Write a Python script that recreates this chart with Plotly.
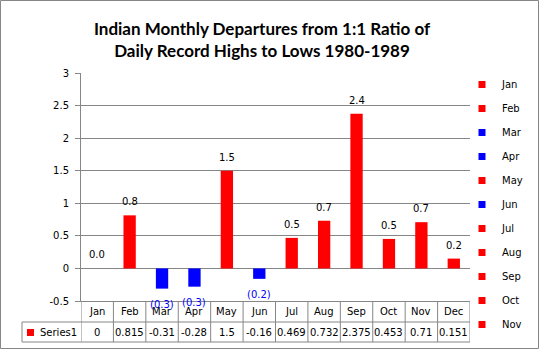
import plotly.graph_objects as go

months = ["Jan", "Feb", "Mar", "Apr", "May", "Jun", "Jul", "Aug", "Sep", "Oct", "Nov", "Dec"]
values = [0, 0.815, -0.31, -0.28, 1.5, -0.16, 0.469, 0.732, 2.375, 0.453, 0.71, 0.151]
series_name = "Series1"
title_text = "Indian Monthly Departures from 1:1 Ratio of<br>Daily Record Highs to Lows 1980-1989"
y_ticks = [-0.5, 0, 0.5, 1, 1.5, 2, 2.5, 3]

RED = "#FF0000"
BLUE = "#0000FF"
GRAY = "#868686"
FONT = "DejaVu Sans"

W, H = 540, 350
L, R, T, B = 81, 70, 73, 49
PW, PH = W - L - R, H - T - B

def px_x(p):  # pixel x -> paper
    return (p - L) / PW

def px_y(p):  # pixel y -> paper
    return (H - B - p) / PH

colors = [RED if v >= 0 else BLUE for v in values]

fig = go.Figure()
fig.add_trace(go.Bar(x=months, y=values, marker=dict(color=colors, line=dict(width=0)),
                     width=0.38, showlegend=False, name=series_name, hoverinfo="x+y"))

# legend entries (Dec is cut off in the original)
for i, (m, c) in enumerate(zip(months[:11], colors[:11])):
    fig.add_trace(go.Scatter(x=[m], y=[None], mode="markers", name=m, legendgroup=m,
                             marker=dict(symbol="square", size=7, color=c)))

annotations = []
# bar labels
for m, v in zip(months, values):
    if v >= 0:
        annotations.append(dict(x=m, y=v, xref="x", yref="y", text=f"{v:.1f}", showarrow=False,
                                yanchor="bottom", yshift=6, font=dict(family=FONT, size=10, color="black")))
    else:
        annotations.append(dict(x=m, y=v, xref="x", yref="y", text=f"({abs(v):.1f})", showarrow=False,
                                yanchor="top", yshift=-8, font=dict(family=FONT, size=10, color=BLUE)))

# data table
y_top = 0
y_mid = px_y(322)
y_bot = px_y(342)
for m, v in zip(months, values):
    annotations.append(dict(x=m, y=(y_top + y_mid) / 2, xref="x", yref="paper", text=m, showarrow=False,
                            yanchor="middle", font=dict(family=FONT, size=10, color="black")))
    annotations.append(dict(x=m, y=(y_mid + y_bot) / 2, xref="x", yref="paper", text=f"{v:g}", showarrow=False,
                            yanchor="middle", font=dict(family=FONT, size=10, color="black")))
annotations.append(dict(x=px_x(38), y=(y_mid + y_bot) / 2, xref="paper", yref="paper", text=series_name,
                        showarrow=False, xanchor="left", yanchor="middle",
                        font=dict(family=FONT, size=10, color="black")))

shapes = []
line = dict(color=GRAY, width=1)
tbl_left = px_x(22)
shapes.append(dict(type="line", xref="paper", yref="paper", x0=tbl_left, x1=1, y0=y_mid, y1=y_mid, line=line))
shapes.append(dict(type="line", xref="paper", yref="paper", x0=tbl_left, x1=1, y0=y_bot, y1=y_bot, line=line))
shapes.append(dict(type="line", xref="paper", yref="paper", x0=tbl_left, x1=tbl_left, y0=y_mid, y1=y_bot, line=line))
for i in range(len(months) + 1):
    shapes.append(dict(type="line", xref="x", yref="paper", x0=i - 0.5, x1=i - 0.5, y0=y_top, y1=y_bot, line=line))
# series key in table
shapes.append(dict(type="rect", xref="paper", yref="paper", x0=px_x(27), x1=px_x(34), y0=px_y(329), y1=px_y(336),
                   fillcolor=RED, line=dict(width=0)))
# outer chart border
shapes.append(dict(type="rect", xref="paper", yref="paper", x0=px_x(0.5), x1=px_x(W - 1.5), y0=px_y(0.5),
                   y1=px_y(H - 1.5), line=dict(color=GRAY, width=1), fillcolor="rgba(0,0,0,0)", layer="below"))

fig.update_layout(
    width=W, height=H,
    margin=dict(l=L, r=R, t=T, b=B, pad=0),
    paper_bgcolor="white", plot_bgcolor="white",
    barmode="overlay",
    title=dict(text=title_text, x=262 / W, xref="container", xanchor="center",
               y=1 - 35 / H, yref="container", yanchor="middle",
               font=dict(family="Lato", size=17, color="black", weight=700)),
    xaxis=dict(type="category", categoryarray=months, range=[-0.5, 11.5], showticklabels=False,
               showgrid=False, zeroline=False, showline=True, linecolor=GRAY, linewidth=1, fixedrange=True),
    yaxis=dict(range=[-0.5, 3], tickvals=y_ticks, ticktext=[f"{t:g}" for t in y_ticks],
               showgrid=True, gridcolor=GRAY, gridwidth=1, zeroline=False,
               showline=True, linecolor=GRAY, linewidth=1, ticks="outside", ticklen=5, tickcolor=GRAY,
               ticklabelstandoff=4, tickfont=dict(family=FONT, size=10, color="black")),
    legend=dict(x=px_x(462), y=px_y(70), xanchor="left", yanchor="top", tracegroupgap=5, maxheight=1,
                font=dict(family=FONT, size=10, color="black"), bgcolor="rgba(0,0,0,0)",
                itemclick=False, itemdoubleclick=False),
    annotations=annotations,
    shapes=shapes,
    showlegend=True,
)

fig.write_html("out.html")
